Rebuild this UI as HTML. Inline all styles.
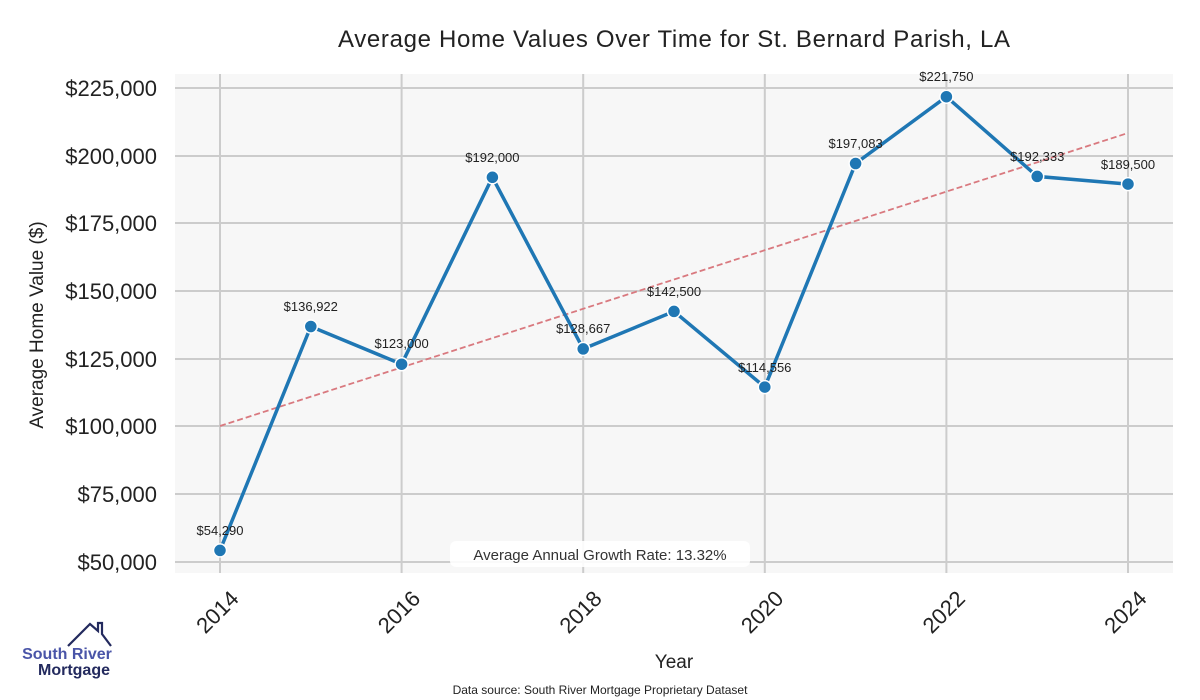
<!DOCTYPE html>
<html><head><style>body{margin:0;background:#fff}svg{display:block}</style></head><body>
<svg width="1200" height="700" viewBox="0 0 1200 700" xmlns="http://www.w3.org/2000/svg" font-family="Liberation Sans, sans-serif">
<rect x="175" y="74" width="998" height="499" fill="#f7f7f7"/>
<g stroke="#cccccc" stroke-width="2">
<line x1="175" x2="1173" y1="88" y2="88"/><line x1="175" x2="1173" y1="156" y2="156"/><line x1="175" x2="1173" y1="223" y2="223"/><line x1="175" x2="1173" y1="291" y2="291"/><line x1="175" x2="1173" y1="359" y2="359"/><line x1="175" x2="1173" y1="426" y2="426"/><line x1="175" x2="1173" y1="494" y2="494"/><line x1="175" x2="1173" y1="562" y2="562"/>
<line y1="74" y2="573" x1="220" x2="220"/><line y1="74" y2="573" x1="401.6" x2="401.6"/><line y1="74" y2="573" x1="583.2" x2="583.2"/><line y1="74" y2="573" x1="764.8" x2="764.8"/><line y1="74" y2="573" x1="946.4" x2="946.4"/><line y1="74" y2="573" x1="1128" x2="1128"/>
</g>
<line x1="220" y1="426" x2="1128" y2="133" stroke="#d9797f" stroke-width="1.8" stroke-dasharray="6,3"/>
<polyline fill="none" stroke="#1f77b4" stroke-width="3.5" points="220,550.4 310.8,326.5 401.6,364.2 492.4,177.3 583.2,348.9 674,311.4 764.8,387.1 855.6,163.5 946.4,96.7 1037.2,176.4 1128,184.1"/>
<g fill="#1f77b4" stroke="#fff" stroke-width="1.5">
<circle cx="220" cy="550.4" r="6.5"/><circle cx="310.8" cy="326.5" r="6.5"/><circle cx="401.6" cy="364.2" r="6.5"/><circle cx="492.4" cy="177.3" r="6.5"/><circle cx="583.2" cy="348.9" r="6.5"/><circle cx="674" cy="311.4" r="6.5"/><circle cx="764.8" cy="387.1" r="6.5"/><circle cx="855.6" cy="163.5" r="6.5"/><circle cx="946.4" cy="96.7" r="6.5"/><circle cx="1037.2" cy="176.4" r="6.5"/><circle cx="1128" cy="184.1" r="6.5"/>
</g>
<g font-size="13" fill="#222" text-anchor="middle">
<text x="220" y="535">$54,290</text><text x="310.8" y="311">$136,922</text><text x="401.6" y="348">$123,000</text><text x="492.4" y="162">$192,000</text><text x="583.2" y="333">$128,667</text><text x="674" y="296">$142,500</text><text x="764.8" y="372">$114,556</text><text x="855.6" y="148">$197,083</text><text x="946.4" y="81">$221,750</text><text x="1037.2" y="161">$192,333</text><text x="1128" y="169">$189,500</text>
</g>
<rect x="450" y="541" width="300" height="26" rx="6" fill="#fff" opacity="0.9"/>
<text x="600" y="560" font-size="15" fill="#333" text-anchor="middle">Average Annual Growth Rate: 13.32%</text>
<g font-size="22" fill="#222" text-anchor="end">
<text x="157" y="96">$225,000</text><text x="157" y="164">$200,000</text><text x="157" y="231">$175,000</text><text x="157" y="299">$150,000</text><text x="157" y="367">$125,000</text><text x="157" y="434">$100,000</text><text x="157" y="502">$75,000</text><text x="157" y="570">$50,000</text>
</g>
<g font-size="22" fill="#222" text-anchor="end">
<text transform="translate(240,600) rotate(-45)">2014</text><text transform="translate(421.6,600) rotate(-45)">2016</text><text transform="translate(603.2,600) rotate(-45)">2018</text><text transform="translate(784.8,600) rotate(-45)">2020</text><text transform="translate(966.4,600) rotate(-45)">2022</text><text transform="translate(1148,600) rotate(-45)">2024</text>
</g>
<text x="674" y="668" font-size="19" fill="#222" text-anchor="middle">Year</text>
<text transform="translate(43,325) rotate(-90)" font-size="19" fill="#222" text-anchor="middle">Average Home Value ($)</text>
<text x="674" y="47" font-size="24" fill="#222" text-anchor="middle" textLength="672">Average Home Values Over Time for St. Bernard Parish, LA</text>
<text x="600" y="694" font-size="12" fill="#222" text-anchor="middle">Data source: South River Mortgage Proprietary Dataset</text>
<polyline points="68,646 90,624 98,631 98,623 102,623 102,634 111,646" fill="none" stroke="#232a5e" stroke-width="2.2"/>
<text x="67" y="659" font-size="16" font-weight="bold" fill="#4a55a8" text-anchor="middle">South River</text>
<text x="74" y="675" font-size="16" font-weight="bold" fill="#232a5e" text-anchor="middle">Mortgage</text>
</svg>
</body></html>
